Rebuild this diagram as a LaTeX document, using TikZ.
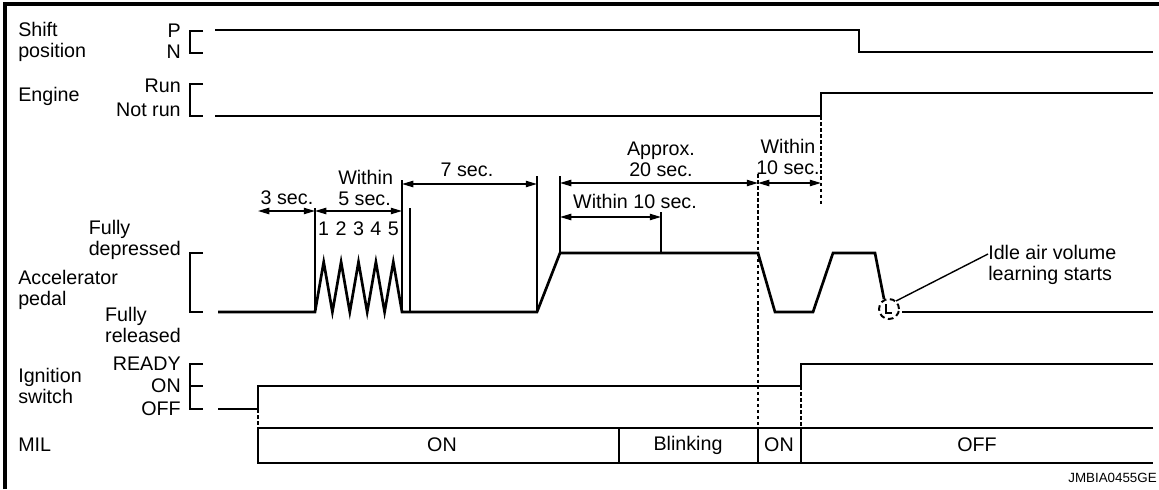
\documentclass[tikz,border=0pt]{standalone}
\usepackage{fontspec}
\setmainfont{Liberation Sans}
\usetikzlibrary{arrows.meta}

\tikzset{
	lbl/.style={inner sep=0pt, font=\fontsize{14}{15}\selectfont},
	sig/.style={line width=1.9pt},
	brk/.style={line width=1pt},
	tickline/.style={line width=1.9pt},
	dim/.style={line width=1pt,
		{Triangle[length=8pt,width=4.5pt]}-{Triangle[length=8pt,width=4.5pt]}},
	guide/.style={line width=0.8pt, dash pattern=on 2.5pt off 1.8pt},
}

\begin{document}
\begin{tikzpicture}[x=0.025cm, y=-0.025cm]
				\useasboundingbox (0,0) rectangle (1159,489);
				\clip (0,0) rectangle (1159,489);
				\draw [line width=3.5pt] (5,489) -- (5,4) -- (1159,4);
				\node (shift) at (18,42) [lbl, anchor=west, align=left] {Shift\\position};
				\node (engine) at (18,96) [lbl, anchor=west] {Engine};
				\node (accel) at (18,290) [lbl, anchor=west, align=left] {Accelerator\\pedal};
				\node (ign) at (18,386) [lbl, anchor=west, align=left] {Ignition\\switch};
				\node (mil) at (18,445) [lbl, anchor=west] {MIL};
				\node (lvP) at (181,31) [lbl, anchor=east] {P};
				\node (lvN) at (181,52) [lbl, anchor=east] {N};
				\node (lvRun) at (181,86) [lbl, anchor=east] {Run};
				\node (lvNotrun) at (181,110) [lbl, anchor=east] {Not run};
				\node (lvDep) at (181,240) [lbl, anchor=east, align=left] {Fully\\depressed};
				\node (lvRel) at (181,325) [lbl, anchor=east, align=left] {Fully\\released};
				\node (lvReady) at (181,364) [lbl, anchor=east] {READY};
				\node (lvOn) at (181,386) [lbl, anchor=east] {ON};
				\node (lvOff) at (181,409) [lbl, anchor=east] {OFF};
				\draw [brk] (203,31) -- (190,31) -- (190,53) -- (203,53);
				\draw [brk] (203,84) -- (190,84) -- (190,116) -- (203,116);
				\draw [brk] (203,253) -- (190,253) -- (190,312) -- (203,312);
				\draw [brk] (203,364) -- (190,364) -- (190,409) -- (203,409);
				\draw [brk] (190,386) -- (203,386);
				\draw [sig] (215,30) -- (859,30) -- (859,52) -- (1153,52);
				\draw [sig] (215,116) -- (821,116) -- (821,93) -- (1153,93);
				\draw [sig] (218,312) -- (315,312)
					\foreach \k in {0,...,4} {-- (315+17.4*\k+8.7,262) -- (315+17.4*\k+17.4,312)}
					-- (537,312) -- (560,253) -- (758,253) -- (775,312) -- (813,312)
					-- (833,253) -- (875,253) -- (884,299);
				\draw [sig] (902,312) -- (1153,312);
				\draw [sig] (218,409) -- (258,409) -- (258,386) -- (801,386) -- (801,364) -- (1153,364);
				\draw [sig] (1153,428) -- (258,428) -- (258,463) -- (1153,463);
				\draw [sig] (619,428) -- (619,463);
				\draw [sig] (758,428) -- (758,463);
				\draw [sig] (801,428) -- (801,463);
				\draw [tickline] (315,208) -- (315,312);
				\draw [tickline] (402,180) -- (402,312);
				\draw [tickline] (410,208) -- (410,312);
				\draw [tickline] (537,176) -- (537,312);
				\draw [tickline] (560,176) -- (560,253);
				\draw [tickline] (661,212) -- (661,253);
				\draw [guide] (258,409) -- (258,428);
				\draw [guide] (758,174) -- (758,428);
				\draw [guide] (821,116) -- (821,205);
				\draw [guide] (801,386) -- (801,428);
				\draw [dim] (258,211) -- (315,211);
				\draw [dim] (315,211) -- (402,211);
				\draw [dim] (402,184) -- (537,184);
				\draw [dim] (560,183) -- (758,183);
				\draw [dim] (560,217) -- (661,217);
				\draw [dim] (758,183) -- (821,183);
				\node (t3) at (287,198) [lbl] {3 sec.};
				\node (t5) at (338,188) [lbl, anchor=west, align=left] {Within\\5 sec.};
				\foreach \k in {1,...,5}
					\node (n\k) at (315+17.4*\k-8.7,229) [lbl] {\k};
				\node (t7) at (467,170) [lbl] {7 sec.};
				\node (t20) at (661,159) [lbl, align=center] {Approx.\\20 sec.};
				\node (t10a) at (635,201) [lbl] {Within 10 sec.};
				\node (t10b) at (788,157) [lbl, align=center] {Within\\10 sec.};
				\draw [line width=1.4pt, dash pattern=on 4pt off 2.5pt] (889,309) circle [radius=0.25cm];
				\draw [line width=1.3pt] (886,304) -- (886,313) -- (892,313);
				\node (idle) at (988,265) [lbl, anchor=west, align=left] {Idle air volume\\learning starts};
				\draw [line width=1pt] (896,301) -- (idle.west |- 0,254);
				\node (mOn) at (442,445) [lbl] {ON};
				\node (mBlink) at (688,445) [lbl] {Blinking};
				\node (mOn2) at (779,445) [lbl] {ON};
				\node (mOff) at (977,445) [lbl] {OFF};
				\node (code) at (1157,478) [inner sep=0pt, anchor=east, font=\fontsize{9.5}{11}\selectfont] {JMBIA0455GE};
			\end{tikzpicture}
\end{document}
